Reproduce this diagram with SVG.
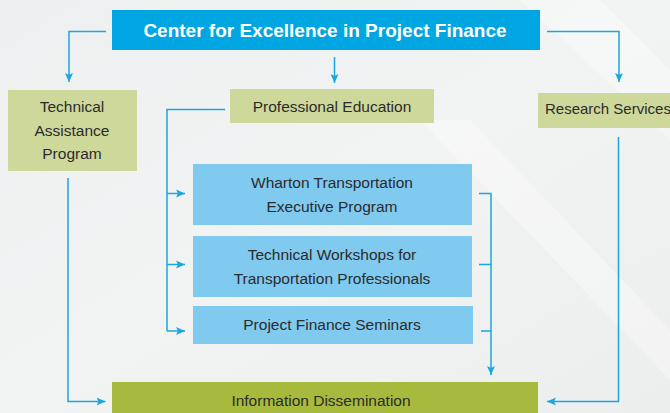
<svg xmlns="http://www.w3.org/2000/svg" width="670" height="413" viewBox="0 0 670 413">
<defs>
<linearGradient id="bg" x1="0" y1="0" x2="1" y2="1">
<stop offset="0" stop-color="#eeeff0"/>
<stop offset="0.5" stop-color="#f2f3f3"/>
<stop offset="1" stop-color="#eceded"/>
</linearGradient>
<marker id="ah" markerWidth="10" markerHeight="10" refX="9" refY="5" orient="auto" markerUnits="userSpaceOnUse">
<path d="M0,1 L9,5 L0,9 L2,5 Z" fill="#1aa7e0"/>
</marker>
<style>
.ln{fill:none;stroke:#1aa7e0;stroke-width:1.5}
.arr{marker-end:url(#ah)}
.t{font-family:"Liberation Sans",Arial,sans-serif;font-size:15.5px;fill:#2b2b2b;text-anchor:middle}
.green{fill:#cfd89b}
.blue{fill:#80c9ef}
</style>
</defs>
<rect width="670" height="413" fill="url(#bg)"/>
<g opacity="0.35" fill="#ffffff">
<polygon points="520,0 600,0 670,70 670,140"/>
<polygon points="420,120 470,120 670,330 670,380"/>
<polygon points="560,0 575,0 670,95 670,110"/>
<polygon points="600,300 630,300 670,345 670,370"/>
</g>
<g id="connectors">
<polyline class="ln arr" points="106,31.5 69,31.5 69,82"/>
<polyline class="ln arr" points="334.5,57 334.5,83"/>
<polyline class="ln arr" points="547,31.5 619,31.5 619,82"/>
<polyline class="ln arr" points="68,178 68,401.5 105.5,401.5"/>
<polyline class="ln arr" points="618.5,137 618.5,401.5 547,401.5"/>
<polyline class="ln" points="225,109.5 167,109.5 167,331"/>
<line class="ln arr" x1="167" y1="193.5" x2="185" y2="193.5"/>
<line class="ln arr" x1="167" y1="264.5" x2="185" y2="264.5"/>
<line class="ln arr" x1="167" y1="331" x2="185" y2="331"/>
<polyline class="ln arr" points="479,193.5 491,193.5 491,375"/>
<line class="ln" x1="479" y1="264.5" x2="491" y2="264.5"/>
<line class="ln" x1="481" y1="331" x2="491" y2="331"/>
</g>
<g id="center">
<rect x="112" y="10" width="428" height="40" fill="#00a6e2"/>
<text x="325" y="37" style="font-family:'Liberation Sans',Arial,sans-serif;font-size:19px;font-weight:bold;fill:#ffffff;text-anchor:middle">Center for Excellence in Project Finance</text>
</g>
<g id="tap">
<rect class="green" x="8" y="90" width="129" height="81"/>
<text class="t" x="72" y="112">Technical</text>
<text class="t" x="72" y="136">Assistance</text>
<text class="t" x="72" y="159">Program</text>
</g>
<g id="profed">
<rect class="green" x="230" y="89" width="204" height="34"/>
<text class="t" x="332" y="112">Professional Education</text>
</g>
<g id="research">
<rect class="green" x="538" y="93" width="132" height="35"/>
<text class="t" x="545" y="114" style="text-anchor:start;font-size:15px">Research Services</text>
</g>
<g id="wharton">
<rect class="blue" x="193" y="164" width="279" height="61"/>
<text class="t" x="332" y="188">Wharton Transportation</text>
<text class="t" x="332" y="212">Executive Program</text>
</g>
<g id="workshops">
<rect class="blue" x="193" y="236" width="279" height="61"/>
<text class="t" x="332" y="260">Technical Workshops for</text>
<text class="t" x="332" y="284">Transportation Professionals</text>
</g>
<g id="seminars">
<rect class="blue" x="193" y="306" width="280" height="38"/>
<text class="t" x="332" y="330">Project Finance Seminars</text>
</g>
<g id="info">
<rect x="112" y="382" width="426" height="31" fill="#a7ba3d"/>
<text class="t" x="321" y="406">Information Dissemination</text>
</g>
</svg>
